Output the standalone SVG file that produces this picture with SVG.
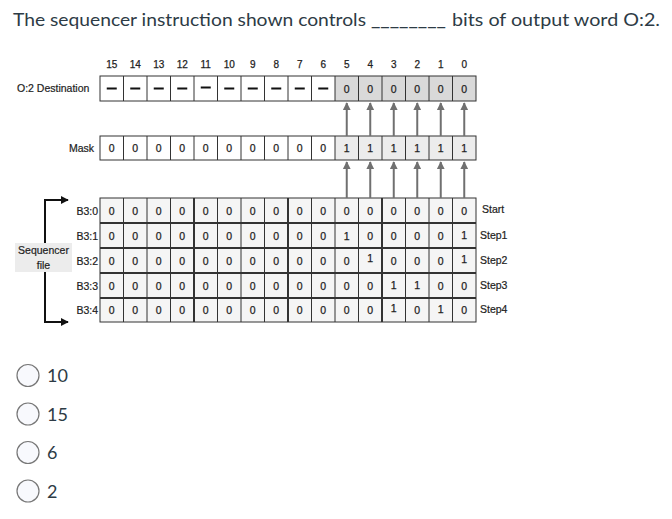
<svg xmlns="http://www.w3.org/2000/svg" width="672" height="519" viewBox="0 0 672 519">
<style>
.t{font-family:Lato,"Liberation Sans",sans-serif;fill:#2d3b45}
.d{font-family:"Liberation Sans",Arial,sans-serif;fill:#222;font-size:10.5px;text-anchor:middle;stroke:#222;stroke-width:0.25}
.h{font-family:"Liberation Sans",Arial,sans-serif;fill:#222;font-size:10px;text-anchor:middle;stroke:#222;stroke-width:0.25}
.l{font-family:"Liberation Sans",Arial,sans-serif;fill:#222;font-size:10.5px;stroke:#222;stroke-width:0.2}
.g{fill:none;stroke:#333;stroke-width:1}
.gt{fill:none;stroke:#333;stroke-width:2}
.ar{stroke:#707070;stroke-width:2;fill:none}
.dash{stroke:#111;stroke-width:2}
.opt{fill:#f8f9fd;stroke:#777;stroke-width:1.2}
</style>
<defs>
<marker id="ah" viewBox="0 0 10 10" refX="9" refY="5" markerWidth="4" markerHeight="4" orient="auto" markerUnits="strokeWidth">
<path d="M0,0 L10,5 L0,10 z" fill="#707070"/>
</marker>
<marker id="bh" viewBox="0 0 10 10" refX="9" refY="5" markerWidth="4" markerHeight="4" orient="auto" markerUnits="strokeWidth">
<path d="M0,0 L10,5 L0,10 z" fill="#111"/>
</marker>
</defs>
<rect width="672" height="519" fill="#fff"/>

<g id="title">
<text class="t" x="13" y="26" font-size="17.5" textLength="353" lengthAdjust="spacingAndGlyphs">The sequencer instruction shown controls</text>
<text class="t" x="371" y="26" font-size="17.5" textLength="75" lengthAdjust="spacingAndGlyphs">________</text>
<text class="t" x="452" y="26" font-size="17.5" textLength="208" lengthAdjust="spacingAndGlyphs">bits of output word O:2.</text>
</g>

<g id="headers">
<text class="h" x="111.75" y="68">15</text><text class="h" x="135.25" y="68">14</text><text class="h" x="158.75" y="68">13</text><text class="h" x="182.25" y="68">12</text>
<text class="h" x="205.75" y="68">11</text><text class="h" x="229.25" y="68">10</text><text class="h" x="252.75" y="68">9</text><text class="h" x="276.25" y="68">8</text>
<text class="h" x="299.75" y="68">7</text><text class="h" x="323.25" y="68">6</text><text class="h" x="346.75" y="68">5</text><text class="h" x="370.25" y="68">4</text>
<text class="h" x="393.75" y="68">3</text><text class="h" x="417.25" y="68">2</text><text class="h" x="440.75" y="68">1</text><text class="h" x="464.25" y="68">0</text>
</g>

<g id="destination">
<text class="l" x="17" y="92">O:2  Destination</text>
<rect x="335" y="76" width="141" height="25" fill="#d9d9d9"/>
<rect class="g" x="100" y="76" width="376" height="25"/>
<path class="g" d="M123.5,76V101M147,76V101M170.5,76V101M194,76V101M217.5,76V101M241,76V101M264.5,76V101M288,76V101M311.5,76V101M335,76V101M358.5,76V101M382,76V101M405.5,76V101M429,76V101M452.5,76V101"/>
<path class="dash" d="M106.75,88.5h10M130.25,88.5h10M153.75,88.5h10M177.25,88.5h10M200.75,87.5h10M224.25,88.5h10M247.75,88.5h10M271.25,88.5h10M294.75,88.5h10M318.25,88.5h10"/>
<text class="d" x="346.75" y="92.5">0</text><text class="d" x="370.25" y="92.5">0</text><text class="d" x="393.75" y="92.5">0</text><text class="d" x="417.25" y="92.5">0</text><text class="d" x="440.75" y="92.5">0</text><text class="d" x="464.25" y="92.5">0</text>
</g>

<g id="mask">
<text class="l" x="94" y="152" text-anchor="end">Mask</text>
<rect x="335" y="136" width="141" height="24" fill="#ececec"/>
<rect class="g" x="100" y="136" width="376" height="24"/>
<path class="g" d="M123.5,136V160M147,136V160M170.5,136V160M194,136V160M217.5,136V160M241,136V160M264.5,136V160M288,136V160M311.5,136V160M335,136V160M358.5,136V160M382,136V160M405.5,136V160M429,136V160M452.5,136V160"/>
<text class="d" x="111.75" y="152">0</text><text class="d" x="135.25" y="152">0</text><text class="d" x="158.75" y="152">0</text><text class="d" x="182.25" y="152">0</text>
<text class="d" x="205.75" y="152">0</text><text class="d" x="229.25" y="152">0</text><text class="d" x="252.75" y="152">0</text><text class="d" x="276.25" y="152">0</text>
<text class="d" x="299.75" y="152">0</text><text class="d" x="323.25" y="152">0</text><text class="d" x="346.75" y="152">1</text><text class="d" x="370.25" y="152">1</text>
<text class="d" x="393.75" y="152">1</text><text class="d" x="417.25" y="152">1</text><text class="d" x="440.75" y="152">1</text><text class="d" x="464.25" y="152">1</text>
</g>

<g id="sequencer-file">
<rect x="100" y="198" width="376" height="124" fill="#f5f5f5"/>
<rect class="g" x="100" y="198" width="376" height="124"/>
<path class="g" d="M123.5,198V322M147,198V322M170.5,198V322M217.5,198V322M241,198V322M264.5,198V322M311.5,198V322M335,198V322M358.5,198V322M405.5,198V322M429,198V322M452.5,198V322"/>
<path class="gt" d="M194,198V322M288,198V322M382,198V322M100,223H476M100,248H476M100,273H476M100,298H476"/>
<text class="l" x="98" y="214.5" text-anchor="end">B3:0</text>
<text class="l" x="98" y="239.5" text-anchor="end">B3:1</text>
<text class="l" x="98" y="264.5" text-anchor="end">B3:2</text>
<text class="l" x="98" y="289.5" text-anchor="end">B3:3</text>
<text class="l" x="98" y="313.5" text-anchor="end">B3:4</text>
<text class="l" x="482" y="213">Start</text>
<text class="l" x="480" y="239">Step1</text>
<text class="l" x="480" y="264">Step2</text>
<text class="l" x="480" y="289">Step3</text>
<text class="l" x="480" y="313">Step4</text>
<g id="row0">
<text class="d" x="111.75" y="214.5">0</text><text class="d" x="135.25" y="214.5">0</text><text class="d" x="158.75" y="214.5">0</text><text class="d" x="182.25" y="214.5">0</text><text class="d" x="205.75" y="214.5">0</text><text class="d" x="229.25" y="214.5">0</text><text class="d" x="252.75" y="214.5">0</text><text class="d" x="276.25" y="214.5">0</text><text class="d" x="299.75" y="214.5">0</text><text class="d" x="323.25" y="214.5">0</text><text class="d" x="346.75" y="214.5">0</text><text class="d" x="370.25" y="214.5">0</text><text class="d" x="393.75" y="214.5">0</text><text class="d" x="417.25" y="214.5">0</text><text class="d" x="440.75" y="214.5">0</text><text class="d" x="464.25" y="214.5">0</text>
</g>
<g id="row1">
<text class="d" x="111.75" y="239.5">0</text><text class="d" x="135.25" y="239.5">0</text><text class="d" x="158.75" y="239.5">0</text><text class="d" x="182.25" y="239.5">0</text><text class="d" x="205.75" y="239.5">0</text><text class="d" x="229.25" y="239.5">0</text><text class="d" x="252.75" y="239.5">0</text><text class="d" x="276.25" y="239.5">0</text><text class="d" x="299.75" y="239.5">0</text><text class="d" x="323.25" y="239.5">0</text><text class="d" x="346.75" y="239.5">1</text><text class="d" x="370.25" y="239.5">0</text><text class="d" x="393.75" y="239.5">0</text><text class="d" x="417.25" y="239.5">0</text><text class="d" x="440.75" y="239.5">0</text><text class="d" x="464.25" y="238.5">1</text>
</g>
<g id="row2">
<text class="d" x="111.75" y="264.5">0</text><text class="d" x="135.25" y="264.5">0</text><text class="d" x="158.75" y="264.5">0</text><text class="d" x="182.25" y="264.5">0</text><text class="d" x="205.75" y="264.5">0</text><text class="d" x="229.25" y="264.5">0</text><text class="d" x="252.75" y="264.5">0</text><text class="d" x="276.25" y="264.5">0</text><text class="d" x="299.75" y="264.5">0</text><text class="d" x="323.25" y="264.5">0</text><text class="d" x="346.75" y="264.5">0</text><text class="d" x="370.25" y="261.5">1</text><text class="d" x="393.75" y="264.5">0</text><text class="d" x="417.25" y="264.5">0</text><text class="d" x="440.75" y="264.5">0</text><text class="d" x="464.25" y="262.5">1</text>
</g>
<g id="row3">
<text class="d" x="111.75" y="289.5">0</text><text class="d" x="135.25" y="289.5">0</text><text class="d" x="158.75" y="289.5">0</text><text class="d" x="182.25" y="289.5">0</text><text class="d" x="205.75" y="289.5">0</text><text class="d" x="229.25" y="289.5">0</text><text class="d" x="252.75" y="289.5">0</text><text class="d" x="276.25" y="289.5">0</text><text class="d" x="299.75" y="289.5">0</text><text class="d" x="323.25" y="289.5">0</text><text class="d" x="346.75" y="289.5">0</text><text class="d" x="370.25" y="289.5">0</text><text class="d" x="393.75" y="288.5">1</text><text class="d" x="417.25" y="288.5">1</text><text class="d" x="440.75" y="289.5">0</text><text class="d" x="464.25" y="289.5">0</text>
</g>
<g id="row4">
<text class="d" x="111.75" y="313.5">0</text><text class="d" x="135.25" y="313.5">0</text><text class="d" x="158.75" y="313.5">0</text><text class="d" x="182.25" y="313.5">0</text><text class="d" x="205.75" y="313.5">0</text><text class="d" x="229.25" y="313.5">0</text><text class="d" x="252.75" y="313.5">0</text><text class="d" x="276.25" y="313.5">0</text><text class="d" x="299.75" y="313.5">0</text><text class="d" x="323.25" y="313.5">0</text><text class="d" x="346.75" y="313.5">0</text><text class="d" x="370.25" y="313.5">0</text><text class="d" x="393.75" y="311.5">1</text><text class="d" x="417.25" y="313.5">0</text><text class="d" x="440.75" y="312.5">1</text><text class="d" x="464.25" y="313.5">0</text>
</g>
</g>

<g id="connectors">
<path class="ar" marker-end="url(#ah)" d="M346.75,136V103"/>
<path class="ar" marker-end="url(#ah)" d="M370.25,136V103"/>
<path class="ar" marker-end="url(#ah)" d="M393.75,136V103"/>
<path class="ar" marker-end="url(#ah)" d="M417.25,136V103"/>
<path class="ar" marker-end="url(#ah)" d="M440.75,136V103"/>
<path class="ar" marker-end="url(#ah)" d="M464.25,136V103"/>
<path class="ar" marker-end="url(#ah)" d="M346.75,198V162"/>
<path class="ar" marker-end="url(#ah)" d="M370.25,198V162"/>
<path class="ar" marker-end="url(#ah)" d="M393.75,198V162"/>
<path class="ar" marker-end="url(#ah)" d="M417.25,198V162"/>
<path class="ar" marker-end="url(#ah)" d="M440.75,198V162"/>
<path class="ar" marker-end="url(#ah)" d="M464.25,198V162"/>
<path stroke="#111" stroke-width="2" fill="none" marker-end="url(#bh)" d="M45,200H68"/>
<path stroke="#111" stroke-width="2" fill="none" marker-end="url(#bh)" d="M45,322H68"/>
<path stroke="#111" stroke-width="2" fill="none" d="M45,199V323"/>
</g>

<g id="sequencer-label">
<rect x="15" y="243" width="57" height="29" fill="#ececec"/>
<text class="l" x="43.5" y="254" text-anchor="middle">Sequencer</text>
<text class="l" x="43.5" y="268.5" text-anchor="middle">file</text>
</g>

<g id="options">
<circle class="opt" cx="28" cy="375.5" r="11"/>
<text class="t" x="47" y="382" font-size="18">10</text>
<circle class="opt" cx="28" cy="414" r="11"/>
<text class="t" x="47" y="420.5" font-size="18">15</text>
<circle class="opt" cx="28" cy="452.5" r="11"/>
<text class="t" x="47" y="459" font-size="18">6</text>
<circle class="opt" cx="28" cy="491" r="11"/>
<text class="t" x="47" y="497.5" font-size="18">2</text>
</g>
</svg>
